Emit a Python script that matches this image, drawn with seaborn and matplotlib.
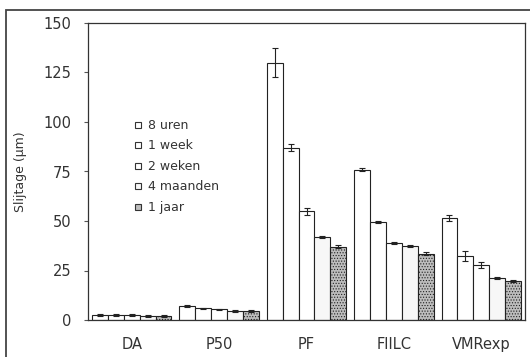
import numpy as np
import pandas as pd
import matplotlib
matplotlib.use("Agg")
import matplotlib.pyplot as plt
from matplotlib.lines import Line2D
from matplotlib.patches import Rectangle
import seaborn as sns

# data
materials = ['DA', 'P50', 'PF', 'FIILC', 'VMRexp']
periods = ['8 uren', '1 week', '2 weken', '4 maanden', '1 jaar']

wear_8h = [2.5, 7.0, 130.0, 76.0, 51.5]
wear_1w = [2.5, 6.0, 87.0, 49.5, 32.5]
wear_2w = [2.5, 5.5, 55.0, 39.0, 28.0]
wear_4m = [2.0, 4.5, 42.0, 37.5, 21.0]
wear_1y = [2.0, 4.5, 37.0, 33.5, 19.5]

err_8h = [0.3, 0.4, 7.5, 1.0, 1.5]
err_1w = [0.3, 0.3, 1.8, 0.7, 2.5]
err_2w = [0.3, 0.3, 1.8, 0.6, 1.5]
err_4m = [0.3, 0.3, 0.6, 0.6, 0.5]
err_1y = [0.3, 0.4, 0.8, 0.6, 0.5]

period_colors = ['white', 'white', 'white', '#f7f7f7', '#bdbdbd']
period_hatches = ['', '', '', '', '......']

values = [wear_8h, wear_1w, wear_2w, wear_4m, wear_1y]
errors = [err_8h, err_1w, err_2w, err_4m, err_1y]
df = pd.DataFrame({
    'materiaal': materials * len(periods),
    'periode': np.repeat(periods, len(materials)),
    'slijtage': np.concatenate(values),
})

sns.set_style('white')
plt.rcParams['font.family'] = ['DejaVu Sans']
plt.rcParams['hatch.color'] = '#666666'
plt.rcParams['hatch.linewidth'] = 0.5
txt = '#333333'

fig = plt.figure(figsize=(5.3, 3.57), dpi=100)
ax = fig.add_axes([88 / 530, 1 - 320 / 357, (525 - 88) / 530, (320 - 23) / 357])

sns.barplot(data=df, x='materiaal', y='slijtage', hue='periode',
            order=materials, hue_order=periods,
            palette=dict(zip(periods, period_colors)),
            width=0.91, gap=0, errorbar=None, edgecolor='#222222',
            linewidth=0.8, legend=False, ax=ax)

# error bars and texture on the bars
bar_conts = list(ax.containers)
for i, cont in enumerate(bar_conts):
    xs = [p.get_x() + p.get_width() / 2 for p in cont.patches]
    ax.errorbar(xs, values[i], yerr=errors[i], fmt='none', ecolor='#222222',
                elinewidth=0.8, capsize=2.5, capthick=0.8, zorder=5)
    for p in cont.patches:
        p.set_hatch(period_hatches[i])

ax.set_xlim(-0.5, 4.5)
ax.set_ylim(0, 150)
ax.set_yticks([0, 25, 50, 75, 100, 125, 150])
ax.set_xlabel('')
ax.set_ylabel('Slijtage (µm)', fontsize=9, color=txt, labelpad=12)
ax.tick_params(axis='y', left=True, length=3, width=0.8, color='#555555',
               labelsize=10.5, labelcolor=txt, pad=9)
ax.tick_params(axis='x', bottom=False, labelsize=10.5, labelcolor=txt, pad=9)
for s in ['left', 'top', 'right', 'bottom']:
    ax.spines[s].set_visible(True)
    ax.spines[s].set_color('#333333')
    ax.spines[s].set_linewidth(0.9)

handles = [Line2D([], [], linestyle='none', marker='s', markersize=5,
                  markerfacecolor=c, markeredgecolor='#333333',
                  markeredgewidth=0.8)
           for c in period_colors]
ax.legend(handles, periods, loc='upper left', bbox_to_anchor=(0.08, 0.715),
          frameon=False, fontsize=9, handlelength=0.6,
          handletextpad=0.5, labelspacing=0.6, labelcolor=txt)

# frame of the scanned figure
fig.patches.append(Rectangle((6 / 530, -0.1), 1.2, 1.1 - 10 / 357,
                             transform=fig.transFigure, fill=False,
                             edgecolor='#444444', linewidth=1.3))

fig.savefig('out.png', dpi=100, facecolor='white')
